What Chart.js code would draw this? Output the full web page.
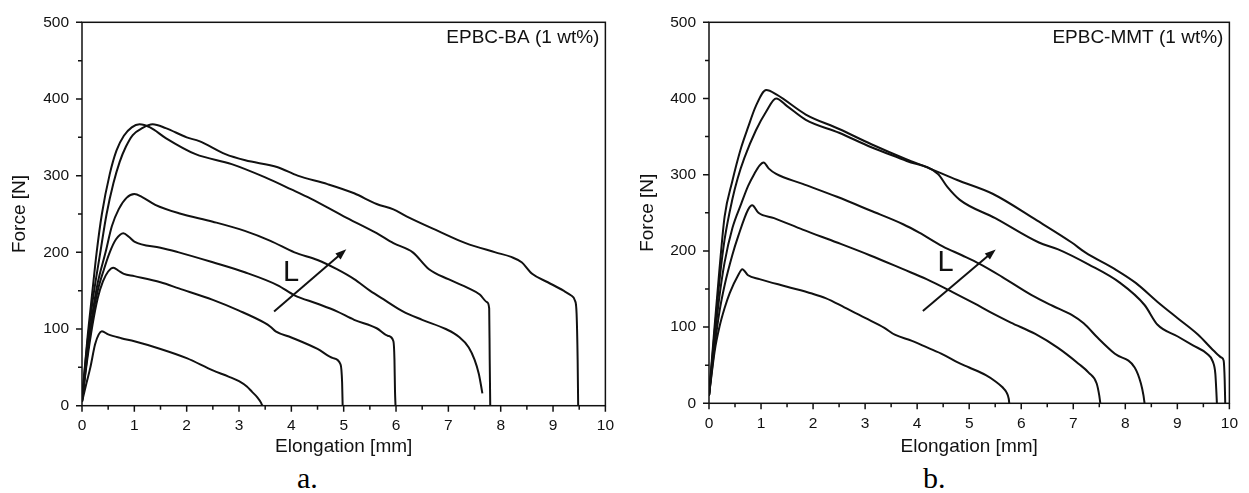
<!DOCTYPE html>
<html>
<head>
<meta charset="utf-8">
<script src="https://cdn.jsdelivr.net/npm/chart.js@4.4.1/dist/chart.umd.min.js"></script>
<style>
body { margin: 0; background: #fff; width: 1249px; height: 493px; position: relative; overflow: hidden; }
.box { position: absolute; top: 0; height: 460px; }
#boxA { left: 0; width: 625px; }
#boxB { left: 628px; width: 621px; }
.lbl { position: absolute; top: 463px; font-family: "Liberation Serif", serif; font-size: 30px; line-height: 30px; }
</style>
</head>
<body>
<div class="box" id="boxA"><canvas id="graficoA"></canvas></div>
<div class="box" id="boxB"><canvas id="graficoB"></canvas></div>
<div class="lbl" style="left:297px">a.</div>
<div class="lbl" style="left:923px">b.</div>
<script>
// a. EPBC-BA (1 wt%) - elongation [mm] / force [N]
const a1x = [0, 0.08, 0.16, 0.25, 0.32, 0.38, 0.5, 0.75, 1.0, 1.5, 2.0, 2.5, 2.8, 3.0, 3.15, 3.25, 3.35, 3.42, 3.44, 3.45];
const a1f = [5, 28, 50, 80, 93, 97, 93, 88, 84, 74, 62, 46, 38, 32, 25, 18, 11, 4, 1, 0];
const a2x = [0, 0.1, 0.2, 0.3, 0.4, 0.5, 0.6, 0.7, 0.8, 1.0, 1.5, 1.85, 2.5, 3.0, 3.49, 3.6, 3.7, 4.0, 4.5, 4.8, 4.94, 4.97, 4.98];
const a2f = [5, 60, 105, 140, 162, 175, 180, 176, 172, 169, 161, 153, 138, 124, 108, 103, 97, 89, 74, 62, 54, 30, 0];
const a3x = [0, 0.1, 0.2, 0.3, 0.42, 0.53, 0.65, 0.79, 0.9, 1.0, 1.5, 1.85, 2.5, 3.11, 3.74, 4.06, 4.5, 4.87, 5.2, 5.63, 5.85, 5.95, 5.97, 5.98, 5.99];
const a3f = [5, 65, 115, 150, 178, 200, 217, 225, 220, 214, 206, 200, 187, 174, 157, 144, 133, 123, 112, 101, 91, 84, 60, 20, 0];
const a4x = [0, 0.1, 0.2, 0.3, 0.45, 0.57, 0.7, 0.85, 1.0, 1.15, 1.4, 1.85, 2.5, 3.11, 3.6, 4.06, 4.5, 4.87, 5.2, 5.5, 5.8, 6.13, 6.5, 6.95, 7.2, 7.39, 7.5, 7.58, 7.62, 7.65];
const a4f = [5, 70, 120, 160, 200, 234, 256, 271, 276, 272, 262, 251, 240, 228, 215, 200, 190, 178, 165, 150, 137, 123, 112, 100, 90, 76, 60, 42, 28, 16];
const a5x = [0, 0.1, 0.2, 0.28, 0.38, 0.53, 0.66, 0.8, 0.95, 1.1, 1.3, 1.6, 2.17, 2.86, 3.49, 4.0, 4.37, 5.0, 5.63, 5.95, 6.32, 6.63, 7.0, 7.39, 7.6, 7.74, 7.78, 7.79, 7.8];
const a5f = [8, 85, 150, 200, 250, 302, 333, 352, 363, 367, 363, 349, 328, 315, 298, 282, 270, 247, 225, 212, 200, 178, 165, 153, 145, 135, 127, 60, 0];
const a6x = [0, 0.1, 0.2, 0.35, 0.47, 0.6, 0.72, 0.84, 0.97, 1.15, 1.35, 1.6, 2.0, 2.24, 2.74, 3.12, 3.74, 4.12, 4.69, 5.2, 5.63, 5.95, 6.2, 6.8, 7.33, 7.9, 8.2, 8.4, 8.6, 8.9, 9.2, 9.34, 9.42, 9.45, 9.47, 9.48];
const a6f = [8, 80, 135, 200, 250, 290, 318, 338, 353, 362, 367, 362, 350, 345, 328, 320, 311, 300, 289, 277, 263, 256, 247, 228, 212, 200, 194, 187, 172, 161, 150, 144, 137, 120, 60, 0];

// b. EPBC-MMT (1 wt%)
const b1x = [0, 0.11, 0.2, 0.3, 0.4, 0.56, 0.64, 0.75, 0.97, 1.5, 1.98, 2.24, 2.6, 3.0, 3.37, 3.57, 3.9, 4.2, 4.5, 4.77, 5.0, 5.32, 5.5, 5.64, 5.72, 5.76, 5.77];
const b1f = [10, 69, 100, 125, 145, 168, 176, 168, 163, 153, 144, 138, 126, 112, 99, 90, 82, 73, 64, 54, 47, 37, 29, 21, 14, 6, 0];
const b2x = [0, 0.1, 0.2, 0.3, 0.45, 0.56, 0.75, 0.83, 0.95, 1.25, 1.8, 2.46, 3.1, 3.73, 4.18, 4.68, 5.1, 5.45, 5.8, 6.27, 6.7, 7.1, 7.3, 7.45, 7.5, 7.52];
const b2f = [10, 70, 120, 155, 195, 219, 254, 260, 250, 243, 228, 211, 194, 176, 163, 146, 131, 118, 106, 91, 73, 52, 40, 26, 10, 0];
const b3x = [0, 0.1, 0.2, 0.3, 0.45, 0.62, 0.75, 0.87, 0.97, 1.05, 1.15, 1.29, 1.8, 2.46, 3.1, 3.73, 4.04, 4.49, 4.87, 5.2, 5.63, 6.2, 6.6, 6.97, 7.2, 7.47, 7.8, 8.18, 8.3, 8.35, 8.37];
const b3f = [10, 80, 140, 185, 230, 262, 285, 301, 312, 316, 308, 301, 288, 271, 253, 235, 224, 206, 194, 183, 166, 142, 128, 116, 105, 86, 65, 47, 26, 10, 0];
const b4x = [0, 0.1, 0.2, 0.3, 0.45, 0.53, 0.62, 0.75, 0.9, 1.1, 1.3, 1.86, 2.5, 3.12, 3.8, 4.18, 4.77, 5.45, 6.3, 6.97, 7.23, 7.8, 8.2, 8.62, 9.0, 9.4, 9.7, 9.85, 9.89, 9.91, 9.92];
const b4f = [10, 95, 175, 245, 292, 314, 336, 362, 390, 411, 405, 379, 360, 340, 320, 310, 293, 275, 240, 211, 198, 176, 158, 133, 112, 90, 69, 60, 56, 30, 0];
const b5x = [0, 0.1, 0.2, 0.3, 0.45, 0.55, 0.68, 0.9, 1.1, 1.29, 1.5, 1.86, 2.5, 3.12, 3.8, 4.4, 4.58, 4.82, 5.5, 6.34, 6.71, 7.3, 7.9, 8.37, 8.62, 9.0, 9.3, 9.57, 9.68, 9.73, 9.75, 9.76];
const b5f = [10, 88, 160, 215, 268, 295, 322, 358, 383, 400, 390, 372, 355, 336, 318, 301, 284, 267, 243, 211, 202, 182, 158, 129, 103, 88, 76, 65, 55, 39, 15, 0];

// anotaciones (en unidades de datos)
const flechaA = [[3.67, 123], [5.05, 204]];
const letraA = [3.84, 162];
const flechaB = [[4.11, 121], [5.51, 202]];
const letraB = [4.39, 173];

function serie(xs, fs) {
    return {
        data: xs.map((x, i) => ({ x: x, y: fs[i] })),
        borderColor: '#111',
        borderWidth: 2,
        pointRadius: 0,
        fill: false,
        cubicInterpolationMode: 'monotone'
    };
}

// marco, marcas de ejes, rotulo, flecha y "L"
const marco = {
    id: 'marco',
    afterDraw(chart, args, opts) {
        const { ctx, chartArea: a, scales: { x, y } } = chart;
        ctx.save();
        ctx.strokeStyle = '#111';
        ctx.fillStyle = '#111';
        ctx.lineWidth = 1.5;
        ctx.strokeRect(a.left, a.top, a.right - a.left, a.bottom - a.top);
        ctx.beginPath();
        x.ticks.forEach(t => {
            const px = x.getPixelForValue(t.value);
            const len = t.label === '' ? 4 : 6;
            ctx.moveTo(px, a.bottom);
            ctx.lineTo(px, a.bottom + len);
        });
        y.ticks.forEach(t => {
            const py = y.getPixelForValue(t.value);
            const len = t.label === '' ? 4 : 6;
            ctx.moveTo(a.left - len, py);
            ctx.lineTo(a.left, py);
        });
        ctx.stroke();

        ctx.font = '19px "Liberation Sans", Arial, sans-serif';
        ctx.textAlign = 'right';
        ctx.textBaseline = 'middle';
        ctx.fillText(opts.texto, a.right - 6, a.top + 15);

        // flecha
        const x0 = x.getPixelForValue(opts.flecha[0][0]), y0 = y.getPixelForValue(opts.flecha[0][1]);
        const x1 = x.getPixelForValue(opts.flecha[1][0]), y1 = y.getPixelForValue(opts.flecha[1][1]);
        const ang = Math.atan2(y1 - y0, x1 - x0);
        ctx.lineWidth = 2;
        ctx.beginPath();
        ctx.moveTo(x0, y0);
        ctx.lineTo(x1 - 8 * Math.cos(ang), y1 - 8 * Math.sin(ang));
        ctx.stroke();
        ctx.beginPath();
        ctx.moveTo(x1, y1);
        ctx.lineTo(x1 - 11 * Math.cos(ang) + 4 * Math.sin(ang), y1 - 11 * Math.sin(ang) - 4 * Math.cos(ang));
        ctx.lineTo(x1 - 11 * Math.cos(ang) - 4 * Math.sin(ang), y1 - 11 * Math.sin(ang) + 4 * Math.cos(ang));
        ctx.closePath();
        ctx.fill();

        ctx.font = '29px "Liberation Sans", Arial, sans-serif';
        ctx.textAlign = 'left';
        ctx.textBaseline = 'alphabetic';
        ctx.fillText('L', x.getPixelForValue(opts.letra[0]), y.getPixelForValue(opts.letra[1]));
        ctx.restore();
    }
};

function grafico(id, series, texto, flecha, letra, anchoY, altoX, derecha) {
    const familia = '"Liberation Sans", Arial, sans-serif';
    const fuente = { family: familia, size: 15.5 };
    const config = {
        type: 'line',
        data: { datasets: series },
        options: {
            responsive: true,
            maintainAspectRatio: false,
            animation: false,
            layout: { padding: { top: 16, right: derecha, left: 0, bottom: 0 } },
            plugins: {
                legend: { display: false },
                tooltip: { enabled: false },
                marco: { texto: texto, flecha: flecha, letra: letra }
            },
            scales: {
                x: {
                    type: 'linear', min: 0, max: 10,
                    grid: { display: false, drawTicks: false },
                    border: { display: false },
                    ticks: {
                        stepSize: 0.5, autoSkip: false, maxRotation: 0, padding: 11,
                        color: '#111', font: fuente,
                        callback: v => (v % 1 === 0 ? v : '')
                    },
                    title: {
                        display: true, text: 'Elongation [mm]', color: '#111',
                        font: { family: familia, size: 19 }, padding: { top: 2, bottom: 2 }
                    },
                    afterFit: s => { s.height = altoX; }
                },
                y: {
                    type: 'linear', min: 0, max: 500,
                    grid: { display: false, drawTicks: false },
                    border: { display: false },
                    ticks: {
                        stepSize: 50, autoSkip: false, padding: 13,
                        color: '#111', font: fuente,
                        callback: v => (v % 100 === 0 ? v : '')
                    },
                    title: {
                        display: true, text: 'Force [N]', color: '#111',
                        font: { family: familia, size: 19 }, padding: { top: 8, bottom: 2 }
                    },
                    afterFit: s => { s.width = anchoY; }
                }
            }
        },
        plugins: [marco]
    };
    return new Chart(document.getElementById(id).getContext('2d'), config);
}

grafico('graficoA',
    [serie(a1x, a1f), serie(a2x, a2f), serie(a3x, a3f), serie(a4x, a4f), serie(a5x, a5f), serie(a6x, a6f)],
    'EPBC-BA (1 wt%)', flechaA, letraA, 82, 54.3, 13.3);
grafico('graficoB',
    [serie(b1x, b1f), serie(b2x, b2f), serie(b3x, b3f), serie(b4x, b4f), serie(b5x, b5f)],
    'EPBC-MMT (1 wt%)', flechaB, letraB, 81, 56.7, 14);
</script>
</body>
</html>
